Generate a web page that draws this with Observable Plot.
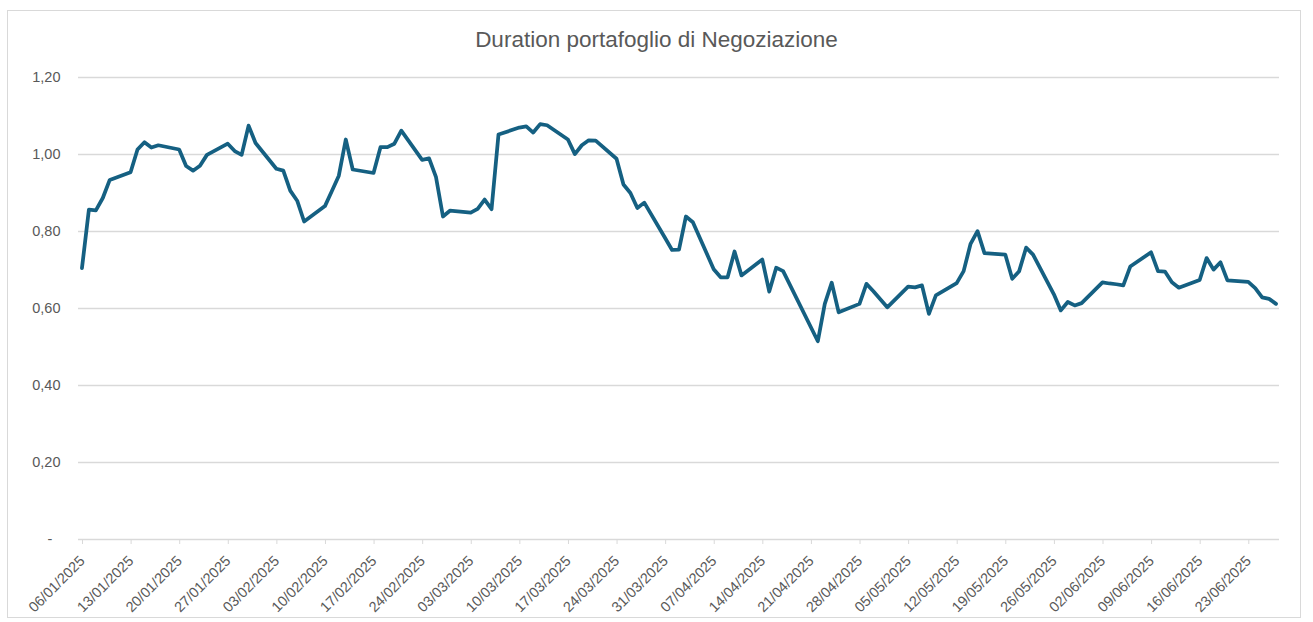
<!DOCTYPE html>
<html>
<head>
<meta charset="utf-8">
<script src="https://cdn.jsdelivr.net/npm/d3@7"></script>
<script src="https://cdn.jsdelivr.net/npm/@observablehq/plot@0.6"></script>
<style>
  html, body { margin: 0; padding: 0; background: #fff; }
  #frame { position: absolute; left: 7px; top: 10px; width: 1294px; height: 608px; border: 1px solid #d9d9d9; box-sizing: border-box; }
  #title { position: absolute; left: 0; top: 26px; width: 1313px; text-align: center; font-family: "Liberation Sans", Arial, sans-serif; font-size: 22.5px; line-height: 28px; color: #595959; }
  #chart { position: absolute; left: 0; top: 60px; }
</style>
</head>
<body>
<div id="frame"></div>
<div id="title">Duration portafoglio di Negoziazione</div>
<div id="chart"></div>
<script>
const dates = [
  "06/01/2025","07/01/2025","08/01/2025","09/01/2025","10/01/2025",
  "13/01/2025","14/01/2025","15/01/2025","16/01/2025","17/01/2025",
  "20/01/2025","21/01/2025","22/01/2025","23/01/2025","24/01/2025",
  "27/01/2025","28/01/2025","29/01/2025","30/01/2025","31/01/2025",
  "03/02/2025","04/02/2025","05/02/2025","06/02/2025","07/02/2025",
  "10/02/2025","11/02/2025","12/02/2025","13/02/2025","14/02/2025",
  "17/02/2025","18/02/2025","19/02/2025","20/02/2025","21/02/2025",
  "24/02/2025","25/02/2025","26/02/2025","27/02/2025","28/02/2025",
  "03/03/2025","04/03/2025","05/03/2025","06/03/2025","07/03/2025",
  "10/03/2025","11/03/2025","12/03/2025","13/03/2025","14/03/2025",
  "17/03/2025","18/03/2025","19/03/2025","20/03/2025","21/03/2025",
  "24/03/2025","25/03/2025","26/03/2025","27/03/2025","28/03/2025",
  "31/03/2025","01/04/2025","02/04/2025","03/04/2025","04/04/2025",
  "07/04/2025","08/04/2025","09/04/2025","10/04/2025","11/04/2025",
  "14/04/2025","15/04/2025","16/04/2025","17/04/2025",
  "22/04/2025","23/04/2025","24/04/2025","25/04/2025",
  "28/04/2025","29/04/2025","30/04/2025","02/05/2025",
  "05/05/2025","06/05/2025","07/05/2025","08/05/2025","09/05/2025",
  "12/05/2025","13/05/2025","14/05/2025","15/05/2025","16/05/2025",
  "19/05/2025","20/05/2025","21/05/2025","22/05/2025","23/05/2025",
  "26/05/2025","27/05/2025","28/05/2025","29/05/2025","30/05/2025",
  "02/06/2025","03/06/2025","04/06/2025","05/06/2025","06/06/2025",
  "09/06/2025","10/06/2025","11/06/2025","12/06/2025","13/06/2025",
  "16/06/2025","17/06/2025","18/06/2025","19/06/2025","20/06/2025",
  "23/06/2025","24/06/2025","25/06/2025","26/06/2025","27/06/2025"
];
const duration = [
  0.705,0.857,0.855,0.887,0.934,
  0.954,1.013,1.032,1.018,1.024,
  1.013,0.970,0.958,0.971,0.999,
  1.028,1.009,0.999,1.075,1.030,
  0.963,0.958,0.906,0.880,0.826,
  0.866,0.905,0.945,1.039,0.961,
  0.952,1.019,1.019,1.028,1.062,
  0.986,0.990,0.941,0.839,0.854,
  0.849,0.859,0.883,0.858,1.052,
  1.070,1.073,1.057,1.079,1.076,
  1.039,1.001,1.024,1.037,1.036,
  0.989,0.922,0.900,0.861,0.875,
  0.783,0.752,0.753,0.839,0.824,
  0.702,0.681,0.681,0.748,0.686,
  0.727,0.644,0.706,0.697,
  0.515,0.612,0.667,0.590,
  0.612,0.664,0.645,0.603,
  0.657,0.655,0.660,0.586,0.634,
  0.666,0.697,0.768,0.801,0.744,
  0.740,0.677,0.697,0.758,0.740,
  0.637,0.595,0.617,0.608,0.614,
  0.668,0.665,0.663,0.660,0.709,
  0.746,0.697,0.696,0.668,0.654,
  0.674,0.731,0.701,0.720,0.673,
  0.669,0.653,0.629,0.625,0.612
];
const xTickLabels = [
  "06/01/2025","13/01/2025","20/01/2025","27/01/2025","03/02/2025",
  "10/02/2025","17/02/2025","24/02/2025","03/03/2025","10/03/2025",
  "17/03/2025","24/03/2025","31/03/2025","07/04/2025","14/04/2025",
  "21/04/2025","28/04/2025","05/05/2025","12/05/2025","19/05/2025",
  "26/05/2025","02/06/2025","09/06/2025","16/06/2025","23/06/2025"
];
const xDomainLabels = ["06/01/2025", "28/06/2025"];
const yTicks = [0, 0.2, 0.4, 0.6, 0.8, 1.0, 1.2];

const parse = d3.utcParse("%d/%m/%Y");
const fmt = d3.utcFormat("%d/%m/%Y");
const data = dates.map((d, i) => ({date: parse(d), value: duration[i]}));
// Excel date axis: each day is a slot, points at slot centre
const mid = d => d3.utcHour.offset(d.date, 12);

const chart = Plot.plot({
  width: 1313,
  height: 562,
  marginTop: 17,
  marginBottom: 83,
  marginLeft: 78,
  marginRight: 34,
  style: {fontFamily: "'Liberation Sans', Arial, sans-serif", fontSize: "14.5px", color: "#595959", background: "transparent"},
  x: {type: "utc", domain: xDomainLabels.map(parse)},
  y: {domain: [0, 1.2]},
  marks: [
    Plot.gridY(yTicks, {stroke: "#d9d9d9", strokeOpacity: 1, strokeWidth: 1.3}),
    Plot.axisY(yTicks, {
      tickSize: 0, tickPadding: 18, fill: "#595959", label: null,
      tickFormat: v => v === 0 ? "-\u00a0\u00a0" : d3.format(".2f")(v).replace(".", ",")
    }),
    Plot.axisX(xTickLabels.map(parse), {
      tickSize: 5, stroke: "#d9d9d9", strokeOpacity: 1, fill: "#595959",
      tickRotate: -45, tickPadding: 14, label: null, tickFormat: fmt, dx: 4
    }),
    Plot.line(data, {x: mid, y: "value", stroke: "#156082", strokeWidth: 3.75, strokeLinejoin: "round", strokeLinecap: "round"})
  ]
});
document.getElementById("chart").appendChild(chart);
</script>
</body>
</html>
